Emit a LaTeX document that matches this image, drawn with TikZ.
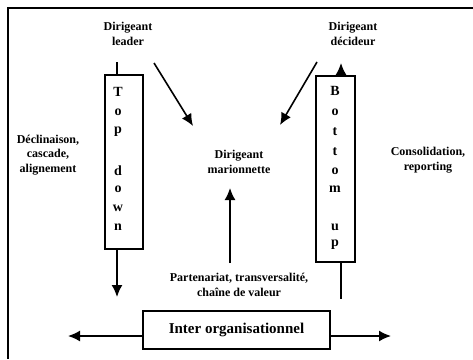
\documentclass[tikz,border=0pt]{standalone}
\usepackage{fontspec}
\setmainfont{Liberation Serif}
\usetikzlibrary{arrows.meta}

\begin{document}
\begin{tikzpicture}[x=1pt,y=-1pt,font=\bfseries\fontsize{12}{14.5}\selectfont,
    box/.style={draw,line width=1.5pt,inner sep=0pt},
    arr/.style={-{Latex[length=12pt,width=11pt]},line width=1.6pt},
    lbl/.style={align=center,inner sep=0pt},
    letter/.style={inner sep=0pt,font=\bfseries\fontsize{14}{16}\selectfont}]
  \useasboundingbox (0,0) rectangle (473,359);
  \draw[line width=2pt] (473,8) -- (8,8) -- (8,359);
  % vertical boxes
  \node[box,minimum width=38pt,minimum height=174pt] (topdown) at (124,162) {};
  \node[box,minimum width=39pt,minimum height=186pt] (bottomup) at (335.5,169) {};
  \foreach \l/\y in {T/92,o/112,p/132,d/171,o/189,w/208,n/227}{
    \node[letter] at (118,\y) {\l};
  }
  \foreach \l/\y in {B/91,o/112,t/132,t/152,o/171,m/189,u/227,p/245}{
    \node[letter] at (335,\y) {\l};
  }
  % labels
  \node[lbl] (leader) at (128,34) {Dirigeant\\leader};
  \node[lbl] (decideur) at (353,34) {Dirigeant\\décideur};
  \node[lbl] (marionnette) at (239,162) {Dirigeant\\marionnette};
  \node[lbl] (declinaison) at (48,155) {Déclinaison,\\cascade,\\alignement};
  \node[lbl] (consolidation) at (428,160) {Consolidation,\\reporting};
  \node[lbl] (partenariat) at (239,285) {Partenariat, transversalité,\\chaîne de valeur};
  \node[box,minimum width=187pt,minimum height=38pt,font=\bfseries\fontsize{15}{16}\selectfont] (inter) at (236.5,330) {Inter organisationnel};
  % connectors
  \coordinate (tl) at (193,126);
  \coordinate (tr) at (280,125);
  \draw[arr] (154,63) -- (tl);
  \draw[arr] (317,62) -- (tr);
  \draw[arr] (230,263) -- (230,188);
  \draw[line width=1.5pt] (117,62) -- (topdown.north -| 117,0);
  \draw[arr] (topdown.south -| 117,0) -- (117,297);
  \draw[arr] (bottomup.north -| 341,0) -- (341,63);
  \draw[line width=1.5pt] (bottomup.south -| 341,0) -- (341,299);
  \draw[arr] (inter.west |- 0,336) -- (68,336);
  \draw[arr] (inter.east |- 0,336) -- (391,336);
\end{tikzpicture}
\end{document}
